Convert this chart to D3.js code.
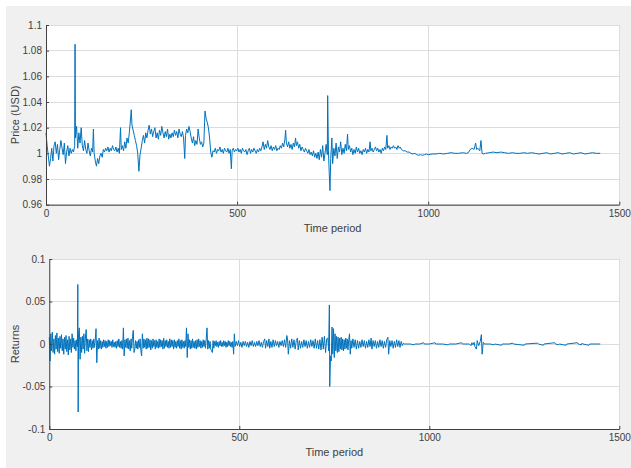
<!DOCTYPE html>
<html><head><meta charset="utf-8">
<script src="https://cdn.jsdelivr.net/npm/d3@7"></script>
<style>body{margin:0;background:#fff}svg{display:block}text{font-family:"Liberation Sans",Arial,sans-serif}</style>
</head><body>
<svg id="c" width="631" height="468"></svg>
<script>
// ---------- data ----------
const timeTicks = [0, 500, 1000, 1500];
const timeLabel = "Time period";
const priceTicks = [0.96, 0.98, 1, 1.02, 1.04, 1.06, 1.08, 1.1];
const priceLabel = "Price (USD)";
const returnTicks = [-0.1, -0.05, 0, 0.05, 0.1];
const returnLabel = "Returns";

// [time period, price]
const priceSeries = [
[0,1.016],[3,1.006],[6,0.998],[9,0.990],[12,0.996],[15,1.004],[18,0.994],[21,1.006],[24,1.009],[27,1.000],
[30,1.007],[33,0.995],[36,1.003],[39,1.010],[42,1.004],[45,0.999],[48,1.008],[51,0.992],[54,1.001],[57,1.006],
[60,0.998],[63,1.004],[66,1.000],[69,1.003],[72,1.001],[75,1.006],[76,1.085],[77,1.012],[80,1.021],[83,1.004],
[86,1.016],[89,1.008],[92,1.020],[95,1.006],[98,1.002],[101,1.010],[104,1.003],[107,1.000],[110,1.008],[113,1.002],
[116,0.998],[119,1.004],[122,1.001],[124,1.019],[126,1.000],[129,0.994],[132,0.990],[135,0.996],[138,0.992],[141,0.998],
[144,1.000],[147,0.997],[150,1.003],[153,1.001],[156,1.004],[159,1.002],[162,1.005],[165,1.001],[168,1.004],[171,1.002],
[174,1.006],[177,1.003],[180,1.002],[183,1.005],[186,1.001],[189,1.004],[192,1.000],[195,1.020],[197,1.003],[200,1.006],
[203,1.002],[206,1.009],[209,1.004],[212,1.012],[215,1.008],[218,1.016],[221,1.026],[223,1.034],[225,1.022],[228,1.018],
[231,1.014],[234,1.010],[237,1.006],[240,1.000],[243,0.986],[246,0.999],[249,1.004],[252,1.010],[255,1.014],[258,1.008],
[261,1.016],[264,1.012],[267,1.018],[270,1.022],[273,1.015],[276,1.019],[279,1.013],[282,1.017],[285,1.020],[288,1.012],
[291,1.016],[294,1.011],[297,1.018],[300,1.014],[303,1.021],[306,1.016],[309,1.012],[312,1.017],[315,1.013],[318,1.019],
[321,1.011],[324,1.015],[327,1.012],[330,1.016],[333,1.013],[336,1.018],[339,1.014],[342,1.017],[345,1.012],[348,1.019],
[351,1.015],[354,1.013],[357,1.017],[360,1.012],[363,0.996],[365,1.014],[368,1.019],[371,1.016],[374,1.021],[377,1.017],
[380,1.012],[383,1.008],[386,1.013],[389,1.006],[392,1.010],[395,1.007],[398,1.019],[401,1.012],[404,1.007],[407,1.009],
[410,1.005],[413,1.008],[416,1.033],[419,1.027],[422,1.024],[425,1.020],[428,1.012],[431,1.001],[434,0.997],[437,1.002],
[440,1.001],[443,1.004],[446,1.000],[449,1.003],[452,1.002],[455,1.005],[458,1.001],[461,1.003],[464,1.000],[467,1.004],
[470,1.002],[473,1.001],[476,1.004],[479,1.000],[482,1.003],[485,0.988],[487,1.002],[490,1.004],[493,1.001],[496,1.003],
[499,1.002],[502,1.004],[505,1.001],[508,1.003],[511,1.000],[514,1.004],[517,1.002],[520,1.001],[523,1.003],[526,0.999],
[529,1.002],[532,1.004],[535,1.000],[538,1.003],[541,1.001],[544,1.004],[547,1.002],[550,1.000],[553,1.003],[556,1.001],
[559,1.004],[562,1.002],[565,1.005],[568,1.009],[571,1.003],[574,1.007],[577,1.004],[580,1.010],[583,1.005],[586,1.003],
[589,1.006],[592,1.002],[595,1.005],[598,1.003],[601,1.006],[604,1.002],[607,1.004],[610,1.003],[613,1.006],[616,1.004],
[619,1.008],[622,1.005],[625,1.011],[627,1.018],[629,1.008],[632,1.005],[635,1.009],[638,1.004],[641,1.007],[644,1.003],
[647,1.008],[650,1.005],[653,1.012],[655,1.006],[658,1.009],[661,1.004],[664,1.007],[667,1.002],[670,1.005],[673,1.003],
[676,1.001],[679,1.004],[682,1.002],[685,1.000],[688,1.003],[691,0.999],[694,1.001],[697,0.998],[700,1.002],[703,0.997],
[706,1.000],[709,0.996],[712,1.001],[715,0.995],[718,1.003],[721,0.997],[724,1.006],[727,0.994],[730,1.000],[733,1.007],
[736,0.999],[737,1.045],[739,1.002],[741,0.985],[743,0.971],[745,0.996],[748,1.012],[750,0.992],[753,1.004],[756,0.998],
[759,1.008],[762,0.996],[765,1.005],[768,1.001],[771,1.009],[774,0.999],[777,1.004],[780,1.000],[783,1.007],[786,1.002],
[789,1.015],[791,1.003],[794,1.006],[797,1.001],[800,1.004],[803,0.999],[806,1.003],[809,1.000],[812,1.005],[815,1.001],
[818,1.004],[821,1.000],[824,1.002],[827,0.999],[830,1.003],[833,1.001],[836,1.004],[839,1.000],[842,1.003],[845,1.001],
[848,1.009],[850,1.002],[853,1.004],[856,1.001],[859,1.003],[862,1.005],[865,1.002],[868,1.004],[871,1.001],[874,1.003],
[877,1.000],[880,1.004],[883,1.002],[886,1.005],[889,1.003],[892,1.014],[894,1.004],[897,1.006],[900,1.003],[903,1.005],
[906,1.004],[909,1.006],[912,1.004],[915,1.005],[918,1.003],[921,1.006],[924,1.004],[927,1.005],[930,1.003],[935,1.002],
[940,1.002],[945,1.001],[950,1.001],[955,1.000],[960,0.9995],[965,1.000],[970,0.999],[975,0.9985],[980,0.999],[985,0.9985],
[990,0.999],[995,0.9995],[1000,0.999],[1010,0.9995],[1020,0.9995],[1030,1.000],[1040,0.9995],[1050,1.000],[1060,1.0005],[1070,1.000],
[1080,1.000],[1090,1.0005],[1100,1.000],[1105,1.0005],[1110,1.003],[1115,1.004],[1120,1.003],[1124,1.008],[1127,1.003],[1130,1.004],
[1135,1.002],[1138,1.010],[1141,1.000],[1145,0.9995],[1150,1.000],[1160,1.0005],[1170,1.001],[1180,1.0005],[1190,1.001],[1200,1.0005],
[1210,1.000],[1220,1.0005],[1230,1.000],[1240,1.000],[1250,1.0005],[1260,1.000],[1270,1.0005],[1280,1.000],[1290,0.9995],[1300,1.000],
[1310,1.0005],[1320,0.9995],[1330,1.000],[1340,1.0005],[1350,0.9995],[1360,1.000],[1370,1.0005],[1380,0.9995],[1390,1.000],[1400,1.0005],
[1410,0.9995],[1420,1.000],[1430,1.0005],[1440,1.000],[1450,1.000]
];

// [time period, return]
const returnSeries = [
[0,0.008],[2,-0.020],[4,0.012],[6,-0.008],[8,0.014],[10,-0.010],[12,0.006],[14,-0.012],[16,0.010],[18,-0.006],
[20,0.013],[22,-0.009],[24,0.007],[26,-0.011],[28,0.009],[30,-0.005],[32,0.011],[34,-0.008],[36,0.006],[38,-0.012],
[40,0.008],[42,-0.006],[44,0.010],[46,-0.009],[48,0.005],[50,-0.013],[52,0.009],[54,-0.007],[56,0.006],[58,-0.010],
[60,0.012],[62,-0.004],[64,0.007],[66,-0.006],[68,0.004],[70,-0.008],[72,0.005],[74,-0.003],[75,0.070],[76,-0.080],
[77,0.012],[79,0.019],[81,-0.018],[83,0.008],[85,-0.010],[87,0.009],[89,-0.006],[91,0.012],[93,-0.011],[95,0.007],
[97,0.017],[99,-0.008],[101,0.006],[103,-0.009],[105,0.005],[107,-0.004],[109,0.006],[111,-0.007],[113,0.004],[115,-0.005],
[117,0.006],[119,-0.004],[121,0.005],[123,0.018],[125,-0.022],[127,0.004],[129,-0.006],[131,0.007],[133,-0.005],[135,0.004],
[137,-0.006],[139,0.003],[141,-0.004],[143,0.005],[145,-0.003],[147,0.004],[149,-0.005],[151,0.003],[153,-0.004],[155,0.005],
[157,-0.003],[159,0.004],[161,-0.002],[163,0.003],[165,-0.004],[167,0.005],[169,-0.003],[171,0.002],[173,-0.004],[175,0.003],
[177,-0.005],[179,0.004],[181,-0.003],[183,0.006],[185,-0.004],[187,0.003],[189,-0.005],[191,0.004],[193,-0.006],[195,0.019],
[197,-0.014],[199,0.005],[201,-0.004],[203,0.006],[205,-0.005],[207,0.007],[209,-0.006],[211,0.004],[213,-0.008],[215,0.006],
[217,-0.005],[219,0.009],[221,0.016],[223,-0.010],[225,-0.006],[227,0.004],[229,-0.005],[231,0.003],[233,-0.006],[235,0.005],
[237,-0.004],[239,0.006],[241,-0.008],[243,-0.014],[245,0.012],[247,-0.005],[249,0.006],[251,-0.004],[253,0.005],[255,-0.006],
[257,0.007],[259,-0.005],[261,0.006],[263,-0.004],[265,0.005],[267,-0.007],[269,0.004],[271,-0.005],[273,0.006],[275,-0.003],
[277,0.004],[279,-0.006],[281,0.005],[283,-0.004],[285,0.003],[287,-0.005],[289,0.006],[291,-0.004],[293,0.005],[295,-0.003],
[297,0.004],[299,-0.006],[301,0.007],[303,-0.005],[305,0.004],[307,-0.003],[309,0.005],[311,-0.004],[313,0.003],[315,-0.005],
[317,0.006],[319,-0.004],[321,0.005],[323,-0.003],[325,0.004],[327,-0.006],[329,0.005],[331,-0.004],[333,0.003],[335,-0.005],
[337,0.004],[339,-0.003],[341,0.006],[343,-0.005],[345,0.004],[347,-0.006],[349,0.005],[351,-0.004],[353,0.003],[355,-0.005],
[357,0.004],[359,-0.003],[361,0.019],[363,-0.016],[365,0.012],[367,-0.004],[369,0.005],[371,-0.006],[373,0.004],[375,-0.005],
[377,0.006],[379,-0.004],[381,0.003],[383,-0.005],[385,0.004],[387,-0.006],[389,0.005],[391,-0.004],[393,0.006],[395,-0.003],
[397,0.004],[399,-0.005],[401,0.003],[403,-0.004],[405,0.005],[407,-0.003],[409,0.004],[411,-0.005],[413,0.006],[415,0.019],
[417,-0.006],[419,0.004],[421,-0.005],[423,0.003],[425,-0.006],[427,-0.008],[429,-0.010],[431,0.004],[433,-0.005],[435,0.003],
[437,-0.002],[439,0.004],[441,-0.003],[443,0.002],[445,-0.004],[447,0.003],[449,-0.002],[451,0.004],[453,-0.003],[455,0.002],
[457,-0.003],[459,0.004],[461,-0.002],[463,0.003],[465,-0.004],[467,0.002],[469,-0.003],[471,0.004],[473,-0.002],[475,0.003],
[477,-0.003],[479,0.002],[481,-0.004],[483,0.003],[485,-0.012],[487,0.012],[489,-0.003],[492,0.003],[495,-0.002],[498,0.004],
[501,-0.003],[504,0.002],[507,-0.004],[510,0.003],[513,-0.002],[516,0.003],[519,-0.003],[522,0.002],[525,-0.004],[528,0.003],
[531,-0.002],[534,0.004],[537,-0.003],[540,0.002],[543,-0.003],[546,0.003],[549,-0.002],[552,0.004],[555,-0.003],[558,0.002],
[561,-0.004],[564,0.003],[567,0.006],[569,-0.005],[572,0.004],[575,-0.003],[578,0.006],[580,-0.005],[583,0.003],[586,-0.004],
[589,0.005],[592,-0.003],[595,0.004],[598,-0.002],[601,0.003],[604,-0.004],[607,0.003],[610,-0.002],[613,0.004],[616,-0.003],
[619,0.005],[622,-0.004],[625,0.010],[627,0.006],[629,-0.012],[632,0.004],[635,-0.005],[638,0.006],[641,-0.004],[644,0.005],
[647,-0.006],[650,0.004],[653,0.007],[655,-0.007],[658,0.004],[661,-0.005],[664,0.003],[667,-0.004],[670,0.005],[673,-0.003],
[676,0.004],[679,-0.005],[682,0.003],[685,-0.004],[688,0.005],[691,-0.003],[694,0.004],[697,-0.005],[700,0.006],[703,-0.005],
[706,0.004],[709,-0.006],[712,0.005],[715,-0.007],[718,0.008],[721,-0.006],[724,0.009],[727,-0.010],[730,0.006],[733,0.007],
[735,-0.008],[737,0.046],[738,-0.050],[740,-0.014],[742,-0.020],[744,0.020],[746,-0.012],[748,0.018],[750,-0.016],[752,0.012],
[754,-0.008],[756,0.009],[758,-0.010],[760,0.008],[762,-0.009],[764,0.007],[766,-0.006],[768,0.008],[770,-0.007],[772,0.006],
[774,-0.008],[776,0.005],[778,-0.006],[780,0.007],[782,-0.005],[784,0.006],[786,-0.007],[788,0.005],[790,0.012],[792,-0.012],
[794,0.004],[796,-0.005],[799,0.006],[802,-0.004],[805,0.005],[808,-0.006],[811,0.004],[814,-0.005],[817,0.003],[820,-0.004],
[823,0.005],[826,-0.003],[829,0.004],[832,-0.005],[835,0.003],[838,-0.004],[841,0.005],[844,-0.003],[847,0.007],[849,-0.006],
[852,0.004],[855,-0.003],[858,0.004],[861,-0.005],[864,0.003],[867,-0.004],[870,0.005],[873,-0.003],[876,0.004],[879,-0.005],
[882,0.003],[885,-0.004],[888,0.005],[891,0.008],[893,-0.012],[896,0.004],[899,-0.003],[902,0.004],[905,-0.005],[908,0.003],
[911,-0.004],[914,0.005],[917,-0.003],[920,0.004],[923,-0.004],[926,0.003],[929,-0.002],[932,0.001],[935,0],[950,0],
[960,-0.001],[962,0],[975,0],[985,0.0015],[987,0],[1000,0],[1015,0.0015],[1017,0],[1035,0],[1050,-0.001],
[1052,0],[1070,0],[1085,0.0015],[1087,0],[1105,0],[1110,-0.002],[1112,0.0015],[1115,-0.001],[1118,0.002],[1120,-0.003],
[1124,-0.006],[1126,0.004],[1130,-0.002],[1134,0.003],[1137,0.011],[1139,-0.012],[1142,0.002],[1145,0],[1160,0],[1170,-0.001],
[1172,0],[1190,-0.0015],[1192,0],[1210,0],[1220,0.001],[1222,0],[1250,-0.0015],[1252,0],[1285,0.001],[1287,0],
[1300,-0.0015],[1302,0],[1330,0.0015],[1332,0],[1340,-0.001],[1342,0],[1360,-0.0015],[1362,0],[1390,0.0015],[1392,0],
[1400,-0.001],[1402,0.001],[1404,0],[1420,-0.0015],[1422,0],[1440,0],[1450,0]
];

// ---------- drawing ----------
const svg = d3.select("#c");
svg.append("rect").attr("x", 6).attr("y", 6).attr("width", 625).attr("height", 462).attr("fill", "#f0f0f0");

const AXIS = "#404040", GRID = "#dcdcdc", LINE = "#0072BD";

function panel(o) {
  const x = d3.scaleLinear().domain([0, 1500]).range([o.left, o.right]);
  const y = d3.scaleLinear().domain(o.yDomain).range([o.bottom, o.top]);
  const g = svg.append("g");
  g.append("rect").attr("x", o.left).attr("y", o.top)
    .attr("width", o.right - o.left).attr("height", o.bottom - o.top).attr("fill", "#fff");
  // grid
  g.selectAll(".gx").data(timeTicks).join("line")
    .attr("x1", d => x(d)).attr("x2", d => x(d)).attr("y1", o.top).attr("y2", o.bottom)
    .attr("stroke", GRID).attr("stroke-width", 1).attr("shape-rendering", "crispEdges");
  g.selectAll(".gy").data(o.yTicks).join("line")
    .attr("x1", o.left).attr("x2", o.right).attr("y1", d => y(d)).attr("y2", d => y(d))
    .attr("stroke", GRID).attr("stroke-width", 1).attr("shape-rendering", "crispEdges");
  // data line
  g.append("path").datum(o.data)
    .attr("d", d3.line().x(d => x(d[0])).y(d => y(d[1])))
    .attr("fill", "none").attr("stroke", LINE).attr("stroke-width", 1).attr("stroke-linejoin", "round");
  // axes
  const xa = g.append("g").attr("transform", `translate(0,${o.bottom})`)
    .call(d3.axisBottom(x).tickValues(timeTicks).tickFormat(d3.format("d")).tickSizeInner(-3).tickSizeOuter(0).tickPadding(5));
  const ya = g.append("g").attr("transform", `translate(${o.left},0)`)
    .call(d3.axisLeft(y).tickValues(o.yTicks).tickFormat(d => String(+d.toFixed(3))).tickSizeInner(-3).tickSizeOuter(0).tickPadding(4));
  [xa, ya].forEach(a => {
    a.select(".domain").attr("stroke", AXIS).attr("stroke-width", 1);
    a.selectAll(".tick line").attr("stroke", AXIS);
    a.selectAll(".tick text").attr("fill", AXIS).attr("font-size", 10)
      .attr("font-family", '"Liberation Sans", Arial, sans-serif');
  });
  g.append("text").attr("x", (o.left + o.right) / 2).attr("y", o.bottom + 27)
    .attr("text-anchor", "middle").attr("font-size", 11).attr("fill", AXIS).text(timeLabel);
  g.append("text").attr("transform", `translate(19,${(o.top + o.bottom) / 2}) rotate(-90)`)
    .attr("text-anchor", "middle").attr("font-size", 11).attr("fill", AXIS).text(o.label);
}

panel({ left: 46, right: 619.3, top: 25, bottom: 204.7, yDomain: [0.96, 1.1], yTicks: priceTicks, data: priceSeries, label: priceLabel });
panel({ left: 49.3, right: 619.3, top: 259, bottom: 429, yDomain: [-0.1, 0.1], yTicks: returnTicks, data: returnSeries, label: returnLabel });
</script>
</body></html>
